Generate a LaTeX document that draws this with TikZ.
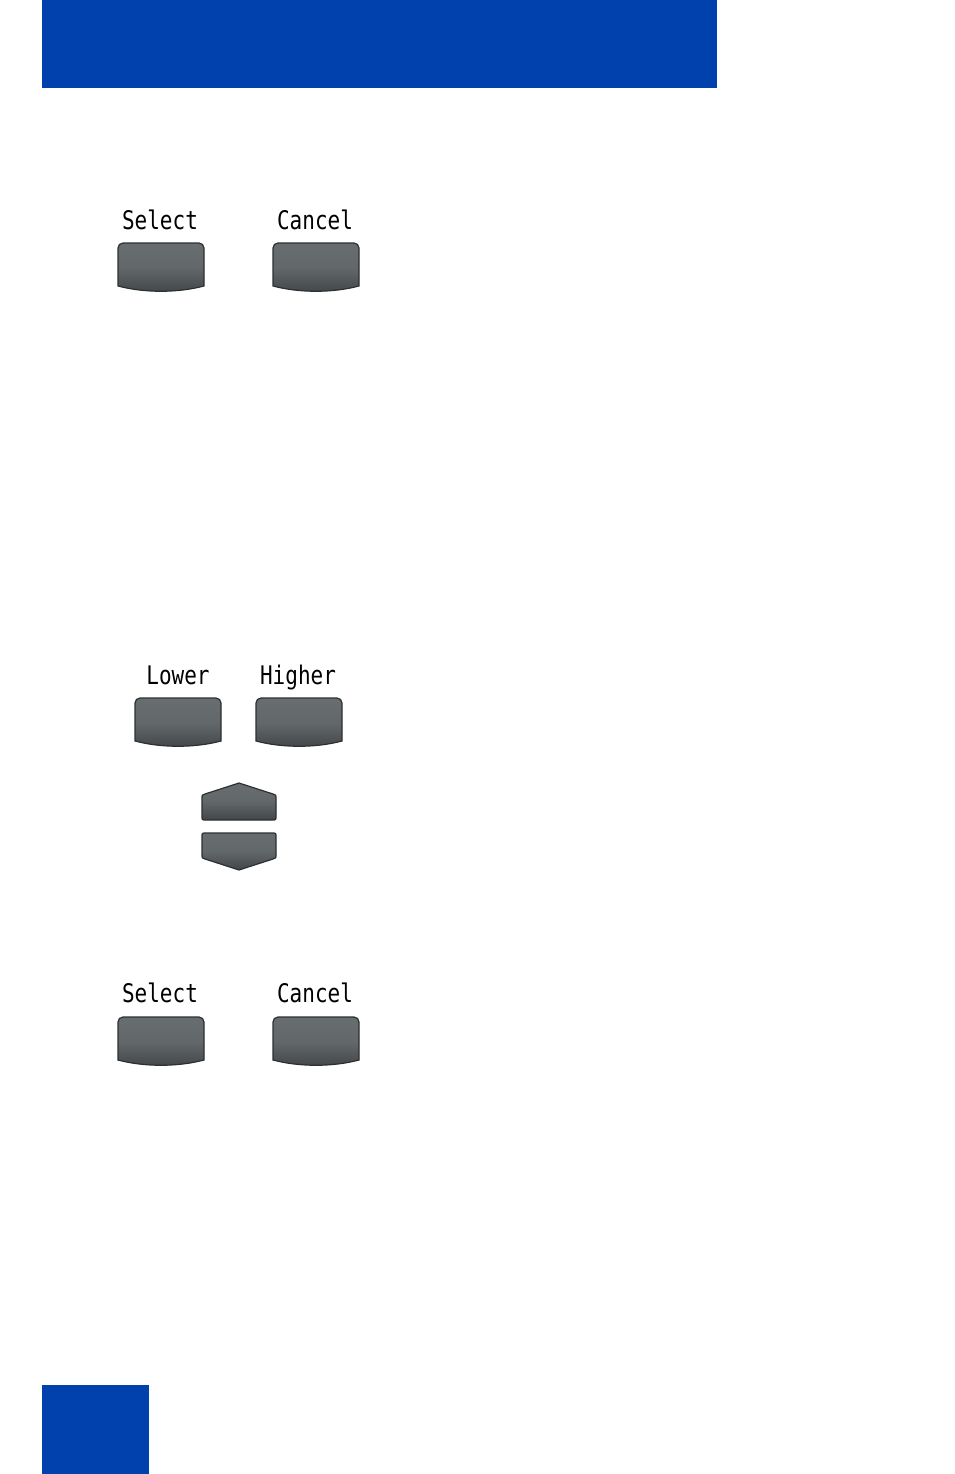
\documentclass[tikz,border=0pt]{standalone}
\usepackage{fontspec}
\newfontfamily\lcdfont{DejaVu Sans Mono}
\definecolor{nblue}{RGB}{0,65,173}
\definecolor{keytop}{RGB}{104,109,111}
\definecolor{keybot}{RGB}{66,70,72}
\definecolor{keyedge}{RGB}{45,48,50}
\tikzset{
  keyshape/.style={draw=keyedge,line width=1.2pt,top color=keytop,bottom color=keybot,middle color=keytop!85!keybot},
  keylabel/.style={font=\lcdfont\fontsize{21}{21}\selectfont,inner sep=0pt,anchor=base,yscale=1.22,transform shape}
}
\newcommand{\softkey}[3]{%
  \path[keyshape] (#2+0,#3+5) arc[start angle=180,end angle=270,radius=5] -- (#2+81,#3) arc[start angle=270,end angle=360,radius=5] -- (#2+86,#3+43) .. controls (#2+60,#3+50) and (#2+26,#3+50) .. (#2+0,#3+43) -- cycle;
  \coordinate (#1) at (#2+43,#3+24);}
\begin{document}
\begin{tikzpicture}[x=1pt,y=-1pt]
\useasboundingbox (0,0) rectangle (954,1474);
\fill[white] (0,0) rectangle (954,1474);
\fill[nblue] (42,0) rectangle (717,88);
\fill[nblue] (42,1385) rectangle (149,1474);
% top pair
\softkey{sel1}{118}{243}
\softkey{can1}{273}{243}
\node[keylabel] (lsel1) at (160,229) {Select};
\node[keylabel] (lcan1) at (315,229) {Cancel};
% lower/higher
\softkey{low}{135}{698}
\softkey{hig}{256}{698}
\node[keylabel] (llow) at (178,684) {Lower};
\node[keylabel] (lhig) at (298,684) {Higher};
% arrow keys
\path[keyshape] (202,816) -- (202,797) .. controls (202,795) .. (205,794) -- (239,783) -- (273,794) .. controls (276,795) .. (276,797) -- (276,816) .. controls (276,820) .. (272,820) -- (206,820) .. controls (202,820) .. (202,816) -- cycle;
\coordinate (up) at (239,804);
\path[keyshape] (206,833) -- (272,833) .. controls (276,833) .. (276,837) -- (276,856) .. controls (276,858) .. (273,859) -- (239,870) -- (205,859) .. controls (202,858) .. (202,856) -- (202,837) .. controls (202,833) .. (206,833) -- cycle;
\coordinate (down) at (239,850);
% bottom pair
\softkey{sel2}{118}{1017}
\softkey{can2}{273}{1017}
\node[keylabel] (lsel2) at (160,1002) {Select};
\node[keylabel] (lcan2) at (315,1002) {Cancel};
\end{tikzpicture}
\end{document}
